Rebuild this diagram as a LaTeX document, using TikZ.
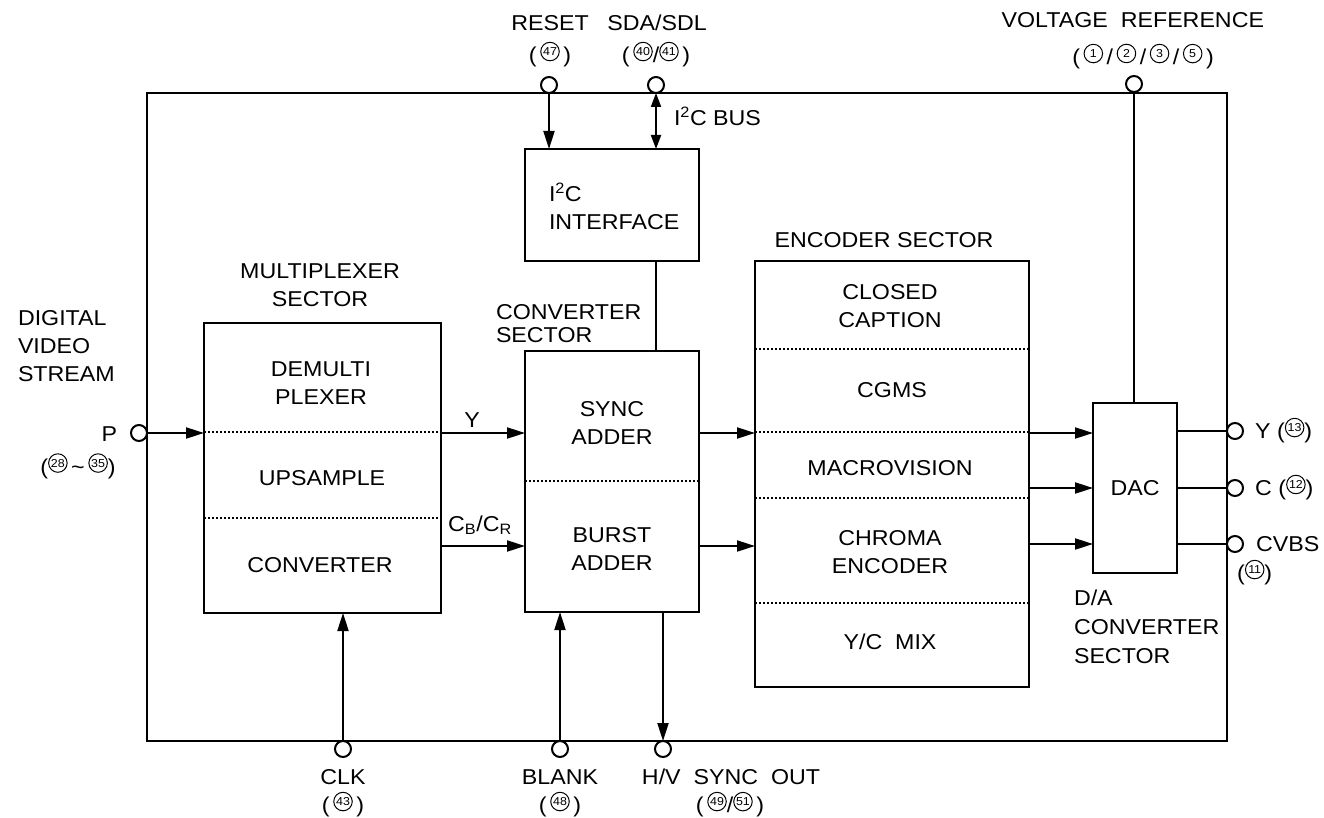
\documentclass[tikz,border=0pt]{standalone}
\usepackage{fontspec}
\setmainfont{Liberation Sans}[FakeStretch=1.08]
\usetikzlibrary{arrows.meta,calc}
\newcommand\cn[1]{\tikz[baseline=-7pt]\node[circle,draw,line width=1pt,inner sep=0pt,minimum size=18.5pt,font=\fontsize{11.5}{11.5}\selectfont] (cnx) {#1};}
\begin{document}
\begin{tikzpicture}[x=1pt,y=-1pt,line width=2pt,
  box/.style={draw,line width=2.2pt,inner sep=0pt,outer sep=0pt,anchor=north west},
  pin/.style={circle,draw,fill=white,line width=2pt,minimum size=16pt,inner sep=0pt,outer sep=0pt},
  arr/.style={-{Triangle[length=18pt,width=11pt]},line width=2pt},
  arrb/.style={{Triangle[length=14pt,width=10pt]}-{Triangle[length=14pt,width=10pt]},line width=2pt},
  sep/.style={line width=1.6pt,dash pattern=on 1.6pt off 2.4pt},
  lbl/.style={font=\fontsize{21.5}{28}\selectfont,inner sep=0pt,anchor=base,align=center},
  lbll/.style={font=\fontsize{21.5}{28}\selectfont,inner sep=0pt,anchor=base west,align=left},
]
\useasboundingbox (0,0) rectangle (1324,818);
% frame and blocks
\node[box,minimum width=1080pt,minimum height=648pt] (frame) at (147,93) {};
\node[box,minimum width=237pt,minimum height=290pt] (mux) at (204,323) {};
\node[box,minimum width=174pt,minimum height=261pt] (conv) at (525,351) {};
\node[box,minimum width=174pt,minimum height=112pt] (i2c) at (525,149) {};
\node[box,minimum width=274pt,minimum height=426pt] (enc) at (755,261) {};
\node[box,minimum width=84pt,minimum height=170pt] (dac) at (1093,403) {};
% separators
\draw[sep] (204,432) -- (441,432);
\draw[sep] (204,518) -- (441,518);
\draw[sep] (525,481) -- (699,481);
\draw[sep] (755,349) -- (1029,349);
\draw[sep] (755,432) -- (1029,432);
\draw[sep] (755,498) -- (1029,498);
\draw[sep] (755,603) -- (1029,603);
% pins
\node[pin] (reset) at (549,85) {};
\node[pin] (sda) at (656,85) {};
\node[pin] (vref) at (1134,84) {};
\node[pin] (p) at (139,433) {};
\node[pin] (yo) at (1235,431) {};
\node[pin] (co) at (1235,488) {};
\node[pin] (cvbs) at (1235,544) {};
\node[pin] (clk) at (343,749) {};
\node[pin] (blank) at (560,749) {};
\node[pin] (hv) at (663,749) {};
\coordinate (cy) at (0,546);
% connectors
\draw[arr] (reset) -- (reset |- i2c.north);
\draw[arrb] (sda) -- (sda |- i2c.north);
\draw (i2c.south -| sda) -- (conv.north -| sda);
\draw (vref) -- (vref |- dac.north);
\draw[arr] (p) -- (p -| mux.west);
\draw[arr] (mux.east |- p) -- (conv.west |- p);
\draw[arr] (mux.east |- cy) -- (conv.west |- cy);
\draw[arr] (conv.east |- p) -- (enc.west |- p);
\draw[arr] (conv.east |- cy) -- (enc.west |- cy);
\draw[arr] (enc.east |- p) -- (dac.west |- p);
\draw[arr] (enc.east |- co) -- (dac.west |- co);
\draw[arr] (enc.east |- cvbs) -- (dac.west |- cvbs);
\draw (dac.east |- yo) -- (yo);
\draw (dac.east |- co) -- (co);
\draw (dac.east |- cvbs) -- (cvbs);
\draw[arr] (clk) -- (clk |- mux.south);
\draw[arr] (blank) -- (blank |- conv.south);
\draw[arr] (conv.south -| hv) -- (hv);
% labels (multi-line nodes: base = baseline of last line)
\node[lbll] (tdvs) at (17,381.5) {DIGITAL\\VIDEO\\STREAM};
\node[lbl,anchor=base east] (tp) at (118,441) {P};
\node[lbl] (tpn) at (78,474) {(\cn{28}\,\textasciitilde\,\cn{35})};
\node[lbl] (tmuxs) at (320,306.5) {MULTIPLEXER\\SECTOR};
\node[lbll,font=\fontsize{21.5}{23.5}\selectfont] (tconvs) at (495,342.5) {CONVERTER\\SECTOR};
\node[lbl] (tencs) at (884,247.5) {ENCODER SECTOR};
\node[lbll] (ti2c) at (548,229.5) {I\textsuperscript{2}C\\INTERFACE};
\node[lbll] (tbus) at (673,125.5) {I\textsuperscript{2}C BUS};
\node[lbl] (treset) at (550,30.5) {RESET};
\node[lbl] (tresetn) at (550,62.5) {(\,\cn{47}\,)};
\node[lbl] (tsda) at (657,30.5) {SDA/SDL};
\node[lbl] (tsdan) at (656,62.5) {(\,\cn{40}/\cn{41}\,)};
\node[lbl,anchor=base east] (tvref) at (1265,27.5) {VOLTAGE\ \ REFERENCE};
\node[lbl] (tvrefn) at (1143,64.5) {(\,\cn{1}\,/\,\cn{2}\,/\,\cn{3}\,/\,\cn{5}\,)};
\node[lbl] (tdemux) at (321,404.5) {DEMULTI\\PLEXER};
\node[lbl] (tups) at (322,485.5) {UPSAMPLE};
\node[lbl] (tconv) at (320,572.5) {CONVERTER};
\node[lbl] (ty) at (472,427.5) {Y};
\node[lbl] (tcbcr) at (480,531) {C\textsubscript{B}/C\textsubscript{R}};
\node[lbl] (tsync) at (612,444.5) {SYNC\\ADDER};
\node[lbl] (tburst) at (612,570.5) {BURST\\ADDER};
\node[lbl] (tcc) at (890,327.5) {CLOSED\\CAPTION};
\node[lbl] (tcgms) at (892,397.5) {CGMS};
\node[lbl] (tmacro) at (890,475.5) {MACROVISION};
\node[lbl] (tchroma) at (890,573.5) {CHROMA\\ENCODER};
\node[lbl] (tycmix) at (890,649.5) {Y/C\ \ MIX};
\node[lbl] (tdac) at (1135,495.5) {DAC};
\node[lbll,font=\fontsize{21.5}{29}\selectfont] (tdas) at (1073,663.5) {D/A\\CONVERTER\\SECTOR};
\node[lbll] (tyo) at (1255,438.5) {Y (\cn{13})};
\node[lbll] (tco) at (1255,495.5) {C (\cn{12})};
\node[lbll] (tcvbs) at (1255,551.5) {CVBS};
\node[lbll] (tcvbsn) at (1237,580.5) {(\cn{11})};
\node[lbl] (tclk) at (343,784.5) {CLK};
\node[lbl] (tclkn) at (343,812.5) {(\,\cn{43}\,)};
\node[lbl] (tblank) at (560,784.5) {BLANK};
\node[lbl] (tblankn) at (560,812.5) {(\,\cn{48}\,)};
\node[lbl] (thv) at (731,784.5) {H/V\ \ SYNC\ \ OUT};
\node[lbl] (thvn) at (730,812.5) {(\,\cn{49}/\cn{51}\,)};
\end{tikzpicture}
\end{document}
